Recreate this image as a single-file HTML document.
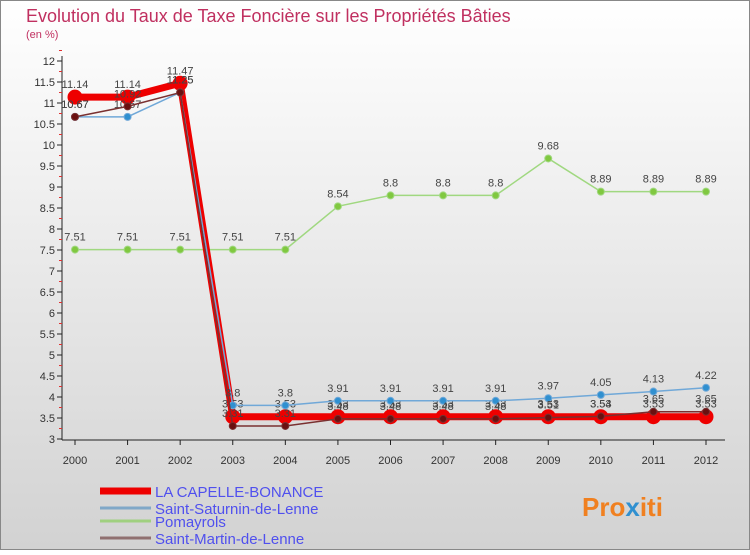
<!DOCTYPE html>
<html><head><meta charset="utf-8"><style>
body{margin:0;width:750px;height:550px;overflow:hidden;font-family:"Liberation Sans",sans-serif}
</style></head><body>
<svg id="c" width="750" height="550" xmlns="http://www.w3.org/2000/svg">
<defs>
<linearGradient id="bg" x1="0" y1="0" x2="0" y2="1"><stop offset="0" stop-color="#ffffff"/><stop offset="1" stop-color="#d2d2d2"/></linearGradient>
<linearGradient id="bg2" x1="0" y1="0" x2="1" y2="1"><stop offset="0" stop-color="#fafafa"/><stop offset="1" stop-color="#d8d8d8"/></linearGradient>
</defs>
<rect width="750" height="550" fill="url(#bg)"/>
<rect x="0.5" y="0.5" width="749" height="549" fill="none" stroke="#888"/>
<text x="26" y="22" font-size="18" fill="#c03060">Evolution du Taux de Taxe Foncière sur les Propriétés Bâties</text>
<text x="26" y="38" font-size="11" fill="#c03060">(en %)</text>
<g id="axes"></g>
<g id="series"></g>
<g id="legend"></g>
<text x="582" y="516" font-size="26" font-weight="bold" fill="#f08020">Pro<tspan fill="#3090d0">x</tspan>iti</text>
</svg>
<script>
const years=["2000","2001","2002","2003","2004","2005","2006","2007","2008","2009","2010","2011","2012"];
const yTicks=[3,3.5,4,4.5,5,5.5,6,6.5,7,7.5,8,8.5,9,9.5,10,10.5,11,11.5,12];
const capelle=[11.14,11.14,11.47,3.53,3.53,3.53,3.53,3.53,3.53,3.53,3.53,3.53,3.53];
const saturnin=[10.67,10.67,11.25,3.8,3.8,3.91,3.91,3.91,3.91,3.97,4.05,4.13,4.22];
const pomayrols=[7.51,7.51,7.51,7.51,7.51,8.54,8.8,8.8,8.8,9.68,8.89,8.89,8.89];
const martin=[10.67,10.92,11.25,3.31,3.31,3.48,3.48,3.48,3.48,3.51,3.54,3.65,3.65];
const NS="http://www.w3.org/2000/svg";
const X=i=>75+i*(706-75)/12;
const Y=v=>439-(v-3)*42;
function mk(tag,attrs,parent){const e=document.createElementNS(NS,tag);for(const k in attrs)e.setAttribute(k,attrs[k]);parent.appendChild(e);return e;}
const ax=document.getElementById('axes');
let e=mk('line',{x1:62,y1:56,x2:62,y2:440,stroke:'#222'},ax);


e=mk('line',{x1:62,y1:440,x2:725,y2:440,stroke:'#222'},ax);


yTicks.forEach(v=>{
 mk('line',{x1:57,y1:Y(v),x2:62,y2:Y(v),stroke:'#222'},ax);
 mk('line',{x1:59,y1:Y(v+0.25),x2:62,y2:Y(v+0.25),stroke:'#e03030'},ax);
 const t=mk('text',{x:55,y:Y(v)+4,'font-size':11,'text-anchor':'end',fill:'#333'},ax);t.textContent=String(v);
 
 
});
years.forEach((y,i)=>{
 mk('line',{x1:X(i),y1:440,x2:X(i),y2:445,stroke:'#222'},ax);
 const t=mk('text',{x:X(i),y:464,'font-size':11,'text-anchor':'middle',fill:'#333'},ax);t.textContent=y;
 
 
});
const sg=document.getElementById('series');
function series(data,color,w,r,name,dotFill){
 const g=mk('g',{},sg);
 
 
 mk('polyline',{points:data.map((v,i)=>X(i)+','+Y(v)).join(' '),fill:'none',stroke:color,'stroke-width':w},g);
 data.forEach((v,i)=>{
  const c=mk('circle',{cx:X(i),cy:Y(v),r:r,fill:dotFill,stroke:color},g);
  
  
  const t=mk('text',{x:X(i),y:Y(v)-9,'font-size':11,'text-anchor':'middle',fill:'#444'},g);t.textContent=String(v);
  
  
 });
}
series(pomayrols,'#a0d880',1.5,3.5,'pomayrols-series','#80c840');
series(capelle,'#ee0000',7,7,'la-capelle-bonance-series','#ee0000');
series(saturnin,'#70a8d8',1.5,3.5,'saint-saturnin-series','#3090d0');
series(martin,'#7a3030',1.5,3.5,'saint-martin-series','#6a1010');
const lg=document.getElementById('legend');
const items=[["LA CAPELLE-BONANCE","#ee0000",7,497],["Saint-Saturnin-de-Lenne","#80a8c8",3,514],["Pomayrols","#a0d080",3,527],["Saint-Martin-de-Lenne","#907070",3,544]];
items.forEach(it=>{
 const g=mk('g',{},lg);
 
 
 mk('line',{x1:100,y1:it[3]-6,x2:151,y2:it[3]-6,stroke:it[1],'stroke-width':it[2]},g);
 const t=mk('text',{x:155,y:it[3],'font-size':15,fill:'#5050ee'},g);t.textContent=it[0];
});
</script>
</body></html>
